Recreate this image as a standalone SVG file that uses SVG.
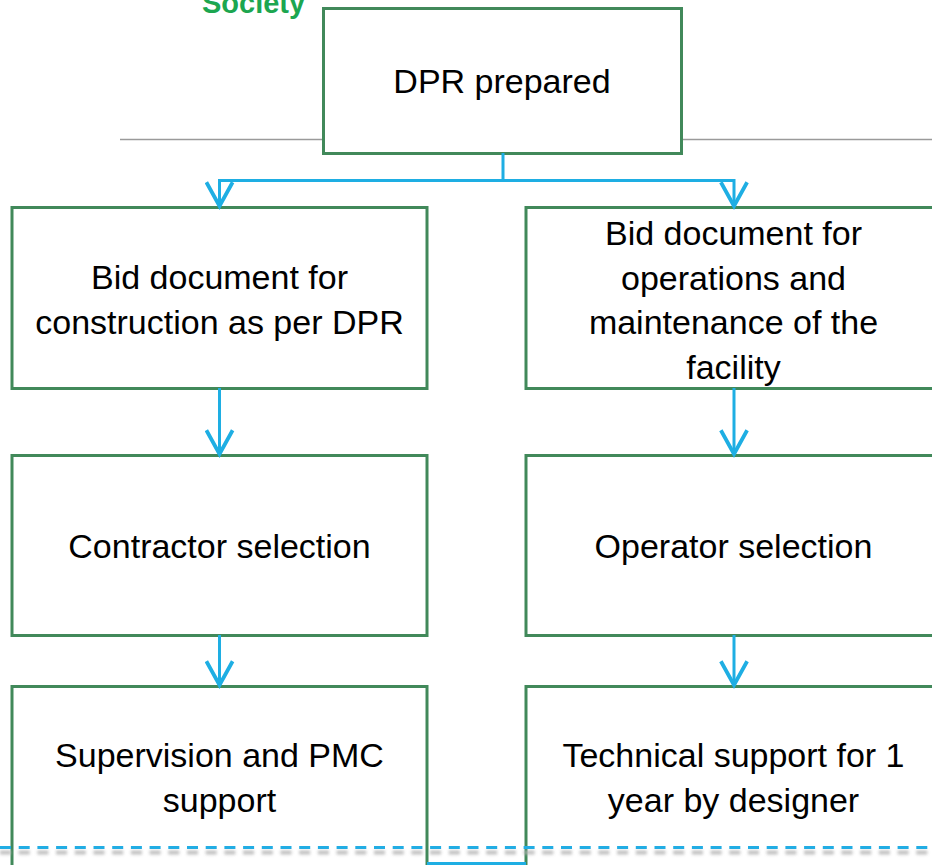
<svg xmlns="http://www.w3.org/2000/svg" width="932" height="865" viewBox="0 0 932 865">
<style>
.box{fill:#fff;stroke:#41895a;stroke-width:3}
.t{font-family:"Liberation Sans",Arial,sans-serif;font-size:34px;fill:#000;text-anchor:middle}
.con{fill:none;stroke:#1eaee3;stroke-width:3}
</style>
<defs>
<marker id="ah" markerUnits="userSpaceOnUse" markerWidth="30" markerHeight="30" refX="20" refY="12" orient="auto" viewBox="0 0 24 24">
<polyline points="1,1.5 20,12 1,22.5" fill="none" stroke="#1eaee3" stroke-width="3"/>
</marker>
<filter id="blur" filterUnits="userSpaceOnUse" x="-10" y="840" width="952" height="25"><feGaussianBlur stdDeviation="1.5"/></filter>
</defs>
<rect width="932" height="865" fill="#fff"/>
<text x="202" y="13" style="font-family:'Liberation Sans',Arial,sans-serif;font-size:29px;font-weight:bold;fill:#1ca650">Society</text>
<line x1="120" y1="139.5" x2="932" y2="139.5" stroke="#9a9a9a" stroke-width="1.5"/>
<g id="n1"><rect class="box" x="323.5" y="8.5" width="358" height="145"/><text class="t" x="502" y="93">DPR prepared</text></g>
<g id="n2"><rect class="box" x="12" y="207.5" width="415" height="181"/><text class="t" x="219.5" y="289">Bid document for</text><text class="t" x="219.5" y="334">construction as per DPR</text></g>
<g id="n3"><rect class="box" x="526" y="207.5" width="416" height="181"/><text class="t" x="733.5" y="245">Bid document for</text><text class="t" x="733.5" y="290">operations and</text><text class="t" x="733.5" y="334">maintenance of the</text><text class="t" x="733.5" y="379">facility</text></g>
<g id="n4"><rect class="box" x="12" y="455.5" width="415" height="180"/><text class="t" x="219.5" y="558">Contractor selection</text></g>
<g id="n5"><rect class="box" x="526" y="455.5" width="416" height="180"/><text class="t" x="733.5" y="558">Operator selection</text></g>
<g id="n6"><rect class="box" x="12" y="686.5" width="415" height="200"/><text class="t" x="219.5" y="767">Supervision and PMC</text><text class="t" x="219.5" y="812">support</text></g>
<g id="n7"><rect class="box" x="526" y="686.5" width="416" height="200"/><text class="t" x="733.5" y="767">Technical support for 1</text><text class="t" x="733.5" y="812">year by designer</text></g>
<g id="connectors">
<polyline class="con" points="503,153 503,180.5 219.5,180.5 219.5,206" marker-end="url(#ah)"/>
<polyline class="con" points="503,180.5 734,180.5 734,206" marker-end="url(#ah)"/>
<line class="con" x1="219.5" y1="388" x2="219.5" y2="454" marker-end="url(#ah)"/>
<line class="con" x1="734" y1="388" x2="734" y2="454" marker-end="url(#ah)"/>
<line class="con" x1="219.5" y1="635" x2="219.5" y2="685" marker-end="url(#ah)"/>
<line class="con" x1="734" y1="635" x2="734" y2="685" marker-end="url(#ah)"/>
<line class="con" x1="427" y1="863.5" x2="526" y2="863.5"/>
</g>
<line x1="0" y1="852.5" x2="932" y2="852.5" stroke="#b0b0b0" stroke-width="4" stroke-dasharray="11,7.7" filter="url(#blur)" opacity="0.8"/>
<line x1="0" y1="847.5" x2="932" y2="847.5" stroke="#22ade4" stroke-width="3" stroke-dasharray="11,7.7"/>
</svg>
